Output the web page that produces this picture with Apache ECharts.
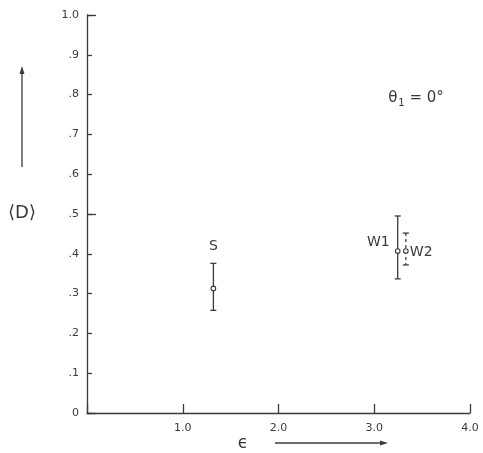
<!DOCTYPE html>
<html>
<head>
<meta charset="utf-8">
<script src="https://cdn.jsdelivr.net/npm/echarts@6/dist/echarts.min.js"></script>
<style>
  html, body { margin: 0; padding: 0; background: #fff; }
  #chart { width: 483px; height: 453px; }
</style>
</head>
<body>
<div id="chart"></div>
<script>
// points
const names = ['S', 'W1', 'W2']
const eps = [1.32, 3.245, 3.33]
const dMean = [0.313, 0.407, 0.407]
const dLow = [0.258, 0.337, 0.372]
const dHigh = [0.376, 0.495, 0.452]

const xTicks = [0, 1, 2, 3, 4]
const yTicks = [0, 0.1, 0.2, 0.3, 0.4, 0.5, 0.6, 0.7, 0.8, 0.9, 1.0]

const ink = '#3a3a3a'
const font = 'DejaVu Sans'

const chart = echarts.init(document.getElementById('chart'))

function errBar(params, api) {
  const i = params.dataIndex
  const x = api.value(0)
  const top = api.coord([x, api.value(3)])
  const bot = api.coord([x, api.value(2)])
  const mid = api.coord([x, api.value(1)])
  const name = names[i]
  const dashed = name === 'W2'
  const lineStyle = { stroke: ink, lineWidth: 1.3, lineDash: dashed ? [3, 3] : null }
  const cap = 3
  let lab
  if (name === 'S') lab = { x: top[0], y: top[1] - 17, align: 'center' }
  else if (name === 'W1') lab = { x: mid[0] - 8, y: mid[1] - 9, align: 'right' }
  else lab = { x: mid[0] + 4, y: mid[1] + 1, align: 'left' }
  return {
    type: 'group',
    children: [
      { type: 'line', shape: { x1: top[0], y1: top[1], x2: bot[0], y2: bot[1] }, style: lineStyle },
      { type: 'line', shape: { x1: top[0] - cap, y1: top[1], x2: top[0] + cap, y2: top[1] }, style: { stroke: ink, lineWidth: 1.3 } },
      { type: 'line', shape: { x1: bot[0] - cap, y1: bot[1], x2: bot[0] + cap, y2: bot[1] }, style: { stroke: ink, lineWidth: 1.3 } },
      { type: 'circle', shape: { cx: mid[0], cy: mid[1], r: 2.3 }, style: { fill: '#fff', stroke: ink, lineWidth: 1.1 } },
      {
        type: 'text',
        x: lab.x, y: lab.y,
        style: { text: name, fill: ink, font: '14px ' + font, align: lab.align, verticalAlign: 'middle' },
      },
    ],
  }
}

const option = {
  backgroundColor: '#fff',
  animation: false,
  grid: { left: 87, top: 15, right: 13, bottom: 40 },
  xAxis: {
    type: 'value',
    min: xTicks[0],
    max: xTicks[xTicks.length - 1],
    interval: 1,
    splitLine: { show: false },
    axisLine: { lineStyle: { color: ink, width: 1.3 } },
    axisTick: { inside: true, length: 9, lineStyle: { color: ink, width: 1.3 } },
    axisLabel: {
      margin: 10,
      color: ink,
      fontFamily: font,
      fontSize: 11,
      formatter: v => (v === 0 ? '' : v.toFixed(1)),
    },
  },
  yAxis: [
    {
      type: 'value',
      min: yTicks[0],
      max: yTicks[yTicks.length - 1],
      interval: 0.1,
      splitLine: { show: false },
      axisLine: { lineStyle: { color: ink, width: 1.3 } },
      axisTick: { inside: true, length: 5, lineStyle: { color: ink, width: 1.3 } },
      axisLabel: {
        margin: 8,
        color: ink,
        fontFamily: font,
        fontSize: 11,
        formatter: v => {
          if (v === 0) return '0'
          if (Math.abs(v - 1) < 1e-6) return '1.0'
          return '.' + Math.round(v * 10)
        },
      },
    },
    {
      // longer ticks at .5 and 1.0
      type: 'value',
      min: 0,
      max: 1,
      interval: 0.5,
      position: 'left',
      splitLine: { show: false },
      axisLine: { show: false },
      axisLabel: { show: false },
      axisTick: { inside: true, length: 9, lineStyle: { color: ink, width: 1.3 } },
    },
  ],
  graphic: [
    { type: 'line', shape: { x1: 22, y1: 167, x2: 22, y2: 72 }, style: { stroke: ink, lineWidth: 1.3 } },
    { type: 'polygon', shape: { points: [[22, 66], [19.5, 74], [24.5, 74]] }, style: { fill: ink } },
    {
      type: 'text', x: 22, y: 213,
      style: { text: '⟨D⟩', fill: ink, font: '18px ' + font, align: 'center', verticalAlign: 'middle' },
    },
    { type: 'line', shape: { x1: 275, y1: 443, x2: 381, y2: 443 }, style: { stroke: ink, lineWidth: 1.3 } },
    { type: 'polygon', shape: { points: [[388, 443], [380, 440.5], [380, 445.5]] }, style: { fill: ink } },
    {
      type: 'text', x: 243, y: 444,
      style: { text: 'ϵ', fill: ink, font: '17px ' + font, align: 'center', verticalAlign: 'middle' },
    },
    {
      type: 'text', x: 416, y: 98,
      style: {
        text: '{t|θ}{s|1}{t| = 0°}',
        align: 'center',
        verticalAlign: 'middle',
        rich: {
          t: { fontFamily: font, fontSize: 15, fill: ink, color: ink },
          s: { fontFamily: font, fontSize: 10, fill: ink, color: ink, padding: [10, 0, 0, 1] },
        },
      },
    },
  ],
  series: [
    {
      type: 'custom',
      renderItem: errBar,
      data: names.map((n, i) => [eps[i], dMean[i], dLow[i], dHigh[i]]),
      encode: { x: 0, y: [1, 2, 3] },
      z: 10,
    },
  ],
}

chart.setOption(option)
</script>
</body>
</html>
